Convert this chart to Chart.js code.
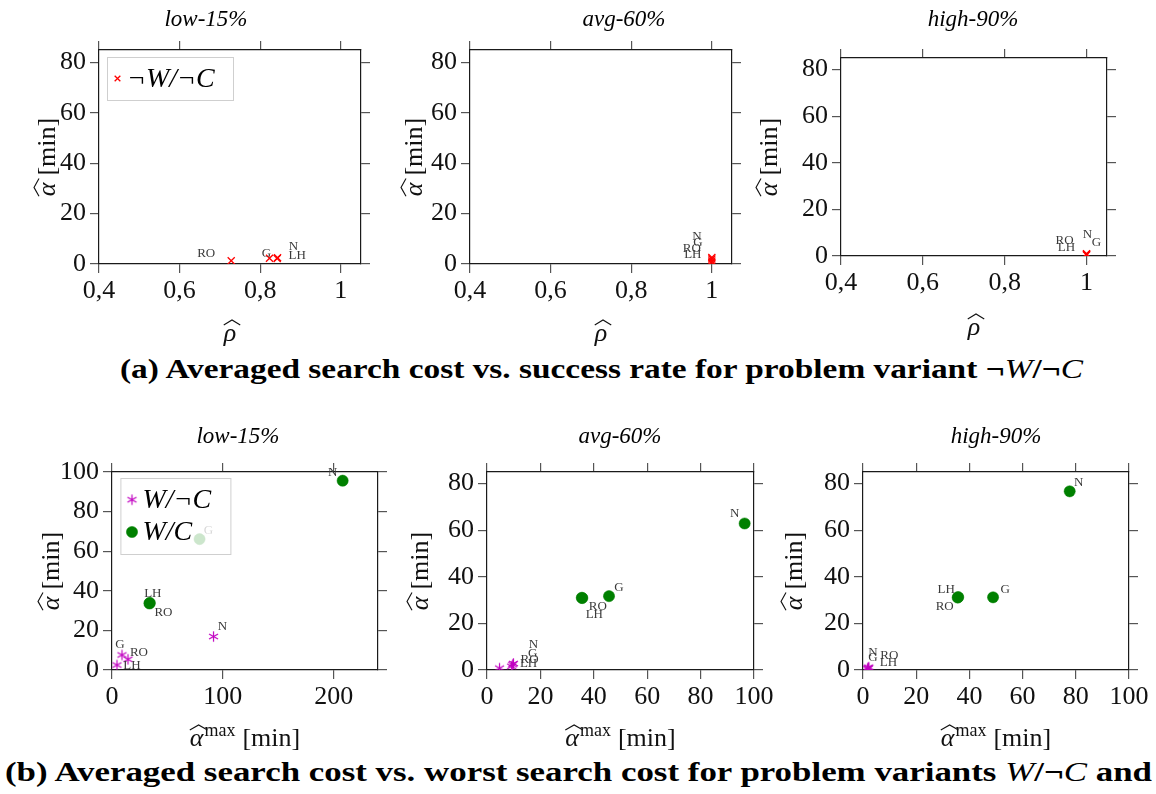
<!DOCTYPE html>
<html>
<head>
<meta charset="utf-8">
<title>Search cost vs. success rate</title>
<script src="https://cdn.jsdelivr.net/npm/chart.js@4.4.1/dist/chart.umd.min.js"></script>
<style>
  html, body { margin: 0; padding: 0; background: #fff; }
  body { width: 1156px; height: 794px; position: relative; overflow: hidden;
         font-family: 'Liberation Serif', 'DejaVu Serif', serif; color: #000; }
  canvas { position: absolute; }
  .cap { position: absolute; white-space: nowrap; font-weight: bold; font-size: 28px;
         line-height: 1; transform-origin: left center; }
  .cap i { font-weight: normal; }
</style>
</head>
<body>
<div class="cap" id="capA" style="left:120px; top:355px;">(a) Averaged search cost vs. success rate for problem variant <span>¬<i>W</i>/¬<i>C</i></span></div>
<div class="cap" id="capB" style="left:5px; top:758px;">(b) Averaged search cost vs. worst search cost for problem variants <span><i>W</i>/¬<i>C</i></span> and</div>
<script>
// ---- methods compared in every panel ----
const methods = ['N', 'G', 'RO', 'LH'];

// ---- ¬W/¬C : success rate ρ and averaged search cost α [min] ----
const rhoLow15   = [0.843, 0.823, 0.728, 0.842];
const costLow15  = [2.5, 2.3, 1.3, 2.2];
const rhoAvg60   = [1, 1, 1, 1];
const costAvg60  = [2.6, 2.0, 1.2, 0.6];
const rhoHigh90  = [1, 1, 1, 1];
const costHigh90 = [1.0, 0.8, 0.6, 0.4];

// ---- W/¬C : worst search cost α-max and averaged search cost α [min] ----
const wncMaxLow15  = [91.6, 9.0, 14.4, 4.5];
const wncAvgLow15  = [16.9, 7.6, 5.4, 2.5];
const wncMaxAvg60  = [9.9, 9.6, 9.2, 4.7];
const wncAvgAvg60  = [2.8, 2.3, 1.6, 0.8];
const wncMaxHigh90 = [2.2, 1.9, 2.0, 1.7];
const wncAvgHigh90 = [1.2, 0.9, 0.8, 0.5];

// ---- W/C : worst search cost α-max and averaged search cost α [min] ----
const wcMaxLow15  = [208.1, 79.0, 33.8, 34.1];
const wcAvgLow15  = [95.6, 66.1, 33.6, 33.9];
const wcMaxAvg60  = [96.5, 45.7, 35.5, 35.7];
const wcAvgAvg60  = [62.9, 31.7, 31.0, 30.9];
const wcMaxHigh90 = [77.7, 48.9, 35.6, 35.8];
const wcAvgHigh90 = [76.7, 31.2, 31.1, 31.3];

// ---- tick values ----
const rhoTicks     = [0.4, 0.6, 0.8, 1];
const costTicks    = [0, 20, 40, 60, 80];
const costTicksLow = [0, 20, 40, 60, 80, 100];
const maxTicksLow  = [0, 100, 200];
const maxTicks     = [0, 20, 40, 60, 80, 100];

// ---- panel titles and series names ----
const levelTitles = ['low-15%', 'avg-60%', 'high-90%'];
const seriesNWNC = '¬W/¬C';
const seriesWNC  = 'W/¬C';
const seriesWC   = 'W/C';

// ---- styling ----
const SERIF = "'Liberation Serif', 'DejaVu Serif', serif";
const PAD_L = 100, PAD_R = 30, PAD_T = 50, PAD_B = 90;
const AXIS_FONT = 26;

// axis titles as text runs; `hat` puts a wide accent over the run
const titleRho = [{ text: 'ρ', font: `italic ${AXIS_FONT}px ${SERIF}`, hat: true }];
const titleCost = [{ text: 'α', font: `italic ${AXIS_FONT}px ${SERIF}`, hat: true, gap: 7 },
                   { text: '[min]', font: `${AXIS_FONT}px ${SERIF}` }];
const titleMaxCost = [{ text: 'α', font: `italic ${AXIS_FONT}px ${SERIF}`, hat: true, gap: 1 },
                      { text: 'max', font: `18px ${SERIF}`, dy: -10, gap: 7 },
                      { text: '[min]', font: `${AXIS_FONT}px ${SERIF}` }];

// six-ray asterisk marker
function asterisk(color, r, lw) {
  const s = Math.ceil(2 * r + 4);
  const cv = document.createElement('canvas');
  cv.width = cv.height = s;
  const g = cv.getContext('2d');
  g.strokeStyle = color; g.lineWidth = lw; g.lineCap = 'butt';
  const c = s / 2;
  for (let k = 0; k < 3; k++) {
    const a = Math.PI / 2 + k * Math.PI / 3;
    g.beginPath();
    g.moveTo(c + r * Math.cos(a), c - r * Math.sin(a));
    g.lineTo(c - r * Math.cos(a), c + r * Math.sin(a));
    g.stroke();
  }
  return cv;
}
const starMarker = asterisk('#c000c0', 5.2, 1.2);

const markStyles = {
  nwnc: { pointStyle: 'crossRot', pointRadius: 5, borderColor: '#ff0000', backgroundColor: '#ff0000', borderWidth: 1.3 },
  wnc:  { pointStyle: starMarker, pointRadius: 5, borderColor: '#c000c0', backgroundColor: '#c000c0', borderWidth: 1.2 },
  wc:   { pointStyle: 'circle', pointRadius: 5.6, borderColor: '#008000', backgroundColor: '#008000', borderWidth: 0.5 }
};

// name label offsets (px) for N, G, RO, LH
const offA1 = [[16, -11], [-3, -5], [-25, -7], [20, -3]];
const offA2 = [[-15, -21], [-14, -16], [-20, -12], [-19, -8]];
const offA3 = [[1, -19], [10, -12], [-22, -14], [-20, -7]];
const offB1wnc = [[9, -10], [-2, -10], [11, -7], [15, 1]];
const offB1wc  = [[-10, -8], [9, -9], [14, 9], [3, -9]];
const offB2wnc = [[20, -19], [20, -11], [18, -7], [29, -5]];
const offB2wc  = [[-10, -10], [10, -9], [16, 9], [12, 17]];
const offB3wnc = [[4, -15], [5, -10], [21, -13], [21, -6]];
const offB3wc  = [[9, -9], [12, -8], [-13, 9], [-12, -8]];

function fmtRho(v) { return v === 1 ? '1' : v.toFixed(1).replace('.', ','); }
function fmtInt(v) { return String(v); }

const panels = [
  { box: [99, 50, 361, 264], title: levelTitles[0], titleX: 206, titleY: 20,
    xMin: 0.4, xMax: 1.05, xTicks: rhoTicks, fmtX: fmtRho, yMin: 0, yMax: 85, yTicks: costTicks,
    xTitle: titleRho, xTitleY: 333, yTitleX: 47,
    series: [{ kind: 'nwnc', label: seriesNWNC, x: rhoLow15, y: costLow15, off: offA1 }],
    legend: { x: 8, y: 7, w: 126, h: 43, markerX: 10.5, textX: 20, rows: [21.5] } },
  { box: [470, 50, 732, 264], title: levelTitles[1], titleX: 624, titleY: 20,
    xMin: 0.4, xMax: 1.05, xTicks: rhoTicks, fmtX: fmtRho, yMin: 0, yMax: 85, yTicks: costTicks,
    xTitle: titleRho, xTitleY: 333, yTitleX: 414,
    series: [{ kind: 'nwnc', label: seriesNWNC, x: rhoAvg60, y: costAvg60, off: offA2 }] },
  { box: [841, 58, 1107, 256], title: levelTitles[2], titleX: 973, titleY: 20,
    xMin: 0.4, xMax: 1.05, xTicks: rhoTicks, fmtX: fmtRho, yMin: 0, yMax: 85, yTicks: costTicks,
    xTitle: titleRho, xTitleY: 327, yTitleX: 769,
    series: [{ kind: 'nwnc', label: seriesNWNC, x: rhoHigh90, y: costHigh90, off: offA3 }] },
  { box: [112, 472, 378, 670], title: levelTitles[0], titleX: 238, titleY: 437,
    xMin: 0, xMax: 240, xTicks: maxTicksLow, fmtX: fmtInt, yMin: 0, yMax: 100, yTicks: costTicksLow,
    xTitle: titleMaxCost, xTitleY: 738, yTitleX: 51,
    series: [{ kind: 'wnc', label: seriesWNC, x: wncMaxLow15, y: wncAvgLow15, off: offB1wnc },
             { kind: 'wc',  label: seriesWC,  x: wcMaxLow15,  y: wcAvgLow15,  off: offB1wc }],
    legend: { x: 8.4, y: 6, w: 110, h: 76, markerX: 11.6, textX: 22, rows: [21.7, 54] } },
  { box: [487, 472, 754, 670], title: levelTitles[1], titleX: 620, titleY: 437,
    xMin: 0, xMax: 100, xTicks: maxTicks, fmtX: fmtInt, yMin: 0, yMax: 85, yTicks: costTicks,
    xTitle: titleMaxCost, xTitleY: 738, yTitleX: 420,
    series: [{ kind: 'wnc', label: seriesWNC, x: wncMaxAvg60, y: wncAvgAvg60, off: offB2wnc },
             { kind: 'wc',  label: seriesWC,  x: wcMaxAvg60,  y: wcAvgAvg60,  off: offB2wc }] },
  { box: [863, 472, 1129, 670], title: levelTitles[2], titleX: 996, titleY: 437,
    xMin: 0, xMax: 100, xTicks: maxTicks, fmtX: fmtInt, yMin: 0, yMax: 85, yTicks: costTicks,
    xTitle: titleMaxCost, xTitleY: 738, yTitleX: 794,
    series: [{ kind: 'wnc', label: seriesWNC, x: wncMaxHigh90, y: wncAvgHigh90, off: offB3wnc },
             { kind: 'wc',  label: seriesWC,  x: wcMaxHigh90,  y: wcAvgHigh90,  off: offB3wc }] }
];

// draws a run-based axis title centred on (cx, cy), optionally rotated
function drawRuns(ctx, runs, cx, cy, angle) {
  ctx.save();
  ctx.translate(cx, cy);
  ctx.rotate(angle);
  ctx.textBaseline = 'alphabetic';
  ctx.textAlign = 'left';
  ctx.fillStyle = '#111';
  ctx.strokeStyle = '#111';
  let total = 0;
  const widths = runs.map((r, i) => {
    ctx.font = r.font;
    const w = ctx.measureText(r.text).width;
    total += w + (i < runs.length - 1 ? (r.gap || 0) : 0);
    return w;
  });
  const base = 8;
  let x = -total / 2;
  runs.forEach((r, i) => {
    ctx.font = r.font;
    ctx.fillText(r.text, x, base + (r.dy || 0));
    if (r.hat) {
      const w = widths[i];
      ctx.lineWidth = 1.1;
      ctx.beginPath();
      ctx.moveTo(x, base - 16);
      ctx.lineTo(x + w / 2 + 2, base - 21);
      ctx.lineTo(x + w + 4, base - 16);
      ctx.stroke();
    }
    x += widths[i] + (r.gap || 0);
  });
  ctx.restore();
}

// draws method names next to marks, the framed legend, panel and axis titles
function makeDecor(p, canvasLeft, canvasTop) {
  return {
    id: 'decor',
    afterDatasetsDraw(chart) {
      const ctx = chart.ctx;
      ctx.save();
      ctx.font = `13px ${SERIF}`;
      ctx.fillStyle = '#3a3a3a';
      ctx.textAlign = 'center';
      ctx.textBaseline = 'middle';
      p.series.forEach((s, di) => {
        const meta = chart.getDatasetMeta(di);
        meta.data.forEach((pt, i) => {
          ctx.fillText(methods[i], pt.x + s.off[i][0], pt.y + s.off[i][1]);
        });
      });
      if (p.legend) {
        const L = p.legend, a = chart.chartArea;
        const bx = a.left + L.x, by = a.top + L.y;
        ctx.fillStyle = 'rgba(255,255,255,0.8)';
        ctx.fillRect(bx, by, L.w, L.h);
        ctx.strokeStyle = '#cfcfcf';
        ctx.lineWidth = 1;
        ctx.strokeRect(bx + 0.5, by + 0.5, L.w, L.h);
        p.series.forEach((s, di) => {
          const st = markStyles[s.kind];
          const yy = by + L.rows[di];
          ctx.fillStyle = st.backgroundColor;
          ctx.strokeStyle = st.borderColor;
          ctx.lineWidth = st.borderWidth;
          Chart.helpers.drawPoint(ctx, { pointStyle: st.pointStyle, radius: st.pointRadius * (s.kind === 'nwnc' ? 0.8 : 1),
                                         borderWidth: st.borderWidth, rotation: 0 }, bx + L.markerX, yy);
          ctx.fillStyle = '#000';
          ctx.font = `italic 28px ${SERIF}`;
          ctx.textAlign = 'left';
          ctx.fillText(s.label, bx + L.textX, yy + 1);
        });
      }
      ctx.restore();
    },
    afterDraw(chart) {
      const ctx = chart.ctx;
      const a = chart.chartArea;
      ctx.save();
      ctx.font = `italic 23px ${SERIF}`;
      ctx.fillStyle = '#000';
      ctx.textAlign = 'center';
      ctx.textBaseline = 'middle';
      ctx.fillText(p.title, p.titleX - canvasLeft, p.titleY - canvasTop);
      ctx.restore();
      drawRuns(ctx, p.xTitle, (a.left + a.right) / 2, p.xTitleY - canvasTop, 0);
      drawRuns(ctx, titleCost, p.yTitleX - canvasLeft, (a.top + a.bottom) / 2, -Math.PI / 2);
    }
  };
}

function buildPanel(p) {
  const [L, T, R, B] = p.box;
  const w = R - L + PAD_L + PAD_R, h = B - T + PAD_T + PAD_B;
  const left = L - PAD_L, top = T - PAD_T;
  const cv = document.createElement('canvas');
  cv.width = w; cv.height = h;
  cv.style.left = left + 'px'; cv.style.top = top + 'px';
  cv.style.width = w + 'px'; cv.style.height = h + 'px';
  document.body.appendChild(cv);

  const tickFont = { family: SERIF, size: 26 };
  const grid = { drawOnChartArea: false, drawTicks: true, tickLength: 9, color: '#555', lineWidth: 1.2 };
  const border = { display: true, color: '#1a1a1a', width: 1.2 };
  const setTicks = vals => s => { s.ticks = vals.map(v => ({ value: v })); };

  const datasets = p.series.map(s => Object.assign({
    label: s.label,
    data: s.x.map((xv, i) => ({ x: xv, y: s.y[i] })),
    pointHoverRadius: 5
  }, markStyles[s.kind]));

  new Chart(cv, {
    type: 'scatter',
    data: { datasets },
    options: {
      responsive: false,
      animation: false,
      events: [],
      layout: { padding: 0, autoPadding: false },
      plugins: { legend: { display: false }, tooltip: { enabled: false }, title: { display: false } },
      scales: {
        x: {
          type: 'linear', position: 'bottom', min: p.xMin, max: p.xMax,
          afterBuildTicks: setTicks(p.xTicks), afterFit: s => { s.height = PAD_B; },
          grid, border,
          ticks: { font: tickFont, color: '#111', padding: 3, maxRotation: 0, autoSkip: false, callback: v => p.fmtX(v) }
        },
        x2: {
          type: 'linear', position: 'top', min: p.xMin, max: p.xMax,
          afterBuildTicks: setTicks(p.xTicks), afterFit: s => { s.height = PAD_T; },
          grid, border, ticks: { display: false }
        },
        y: {
          type: 'linear', position: 'left', min: p.yMin, max: p.yMax,
          afterBuildTicks: setTicks(p.yTicks), afterFit: s => { s.width = PAD_L; },
          grid, border,
          ticks: { font: tickFont, color: '#111', padding: 4, autoSkip: false, callback: v => fmtInt(v) }
        },
        y2: {
          type: 'linear', position: 'right', min: p.yMin, max: p.yMax,
          afterBuildTicks: setTicks(p.yTicks), afterFit: s => { s.width = PAD_R; },
          grid, border, ticks: { display: false }
        }
      }
    },
    plugins: [makeDecor(p, left, top)]
  });
}

panels.forEach(buildPanel);

// stretch captions to their full line width
function fitCaption(id, width) {
  const el = document.getElementById(id);
  const wNow = el.getBoundingClientRect().width;
  el.style.transform = `scaleX(${width / wNow})`;
}
fitCaption('capA', 963);
fitCaption('capB', 1147);
</script>
</body>
</html>
